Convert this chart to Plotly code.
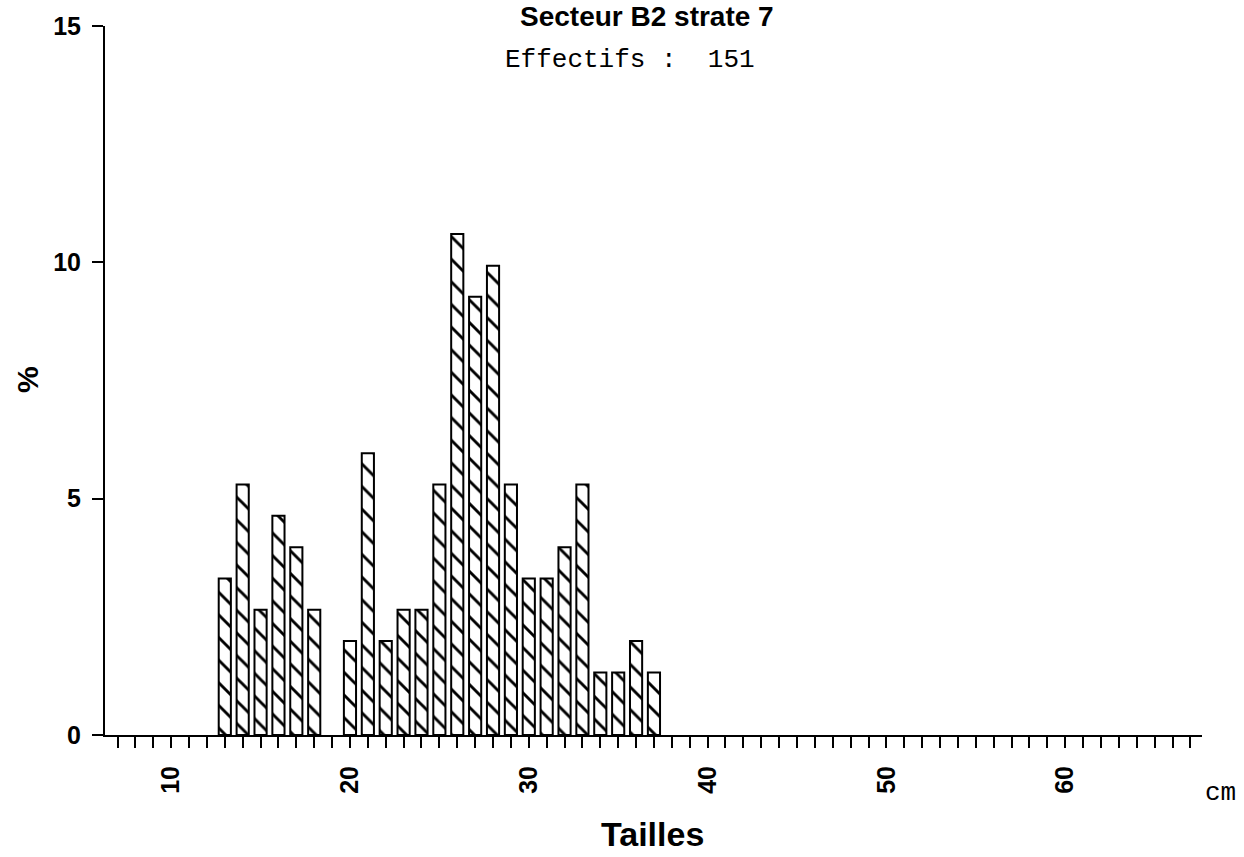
import plotly.graph_objects as go

tailles = [13, 14, 15, 16, 17, 18, 20, 21, 22, 23, 24, 25, 26, 27, 28, 29,
           30, 31, 32, 33, 34, 35, 36, 37]
pourcentages = [3.31, 5.30, 2.65, 4.64, 3.97, 2.65, 1.99, 5.96, 1.99, 2.65, 2.65,
                5.30, 10.60, 9.27, 9.93, 5.30, 3.31, 3.31, 3.97, 5.30, 1.32, 1.32, 1.99, 1.32]
x_ticks = list(range(7, 68))
x_labels = [str(v) if v % 10 == 0 else "" for v in x_ticks]
y_ticks = [0, 5, 10, 15]

fig = go.Figure()
fig.add_trace(go.Bar(
    x=tailles, y=pourcentages, width=0.68,
    marker=dict(color="white", line=dict(color="black", width=2),
                pattern=dict(shape="\\", fgcolor="black", bgcolor="white", fgopacity=1,
                             size=16, solidity=0.18)),
    showlegend=False,
))

bold = "Liberation Sans"
fig.update_layout(
    width=1244, height=857,
    margin=dict(l=105, r=42, t=22, b=122),
    plot_bgcolor="white", paper_bgcolor="white",
    xaxis=dict(range=[6.3, 67.65], tickvals=x_ticks, ticktext=x_labels, tickangle=-90,
               ticks="outside", ticklen=11, tickwidth=2, tickcolor="black",
               ticklabelstandoff=8,
               showline=True, linecolor="black", linewidth=2, showgrid=False, zeroline=False,
               tickfont=dict(family=bold, size=25, color="black", weight="bold")),
    yaxis=dict(range=[0, 15], tickvals=y_ticks, ticks="outside", ticklen=11, tickwidth=2,
               tickcolor="black", showline=True, linecolor="black", linewidth=2,
               ticklabelstandoff=6,
               showgrid=False, zeroline=False,
               tickfont=dict(family=bold, size=25, color="black", weight="bold")),
    annotations=[
        dict(text="<b>Secteur B2 strate 7</b>", xref="paper", yref="paper", x=0.494, y=1.014,
             yanchor="middle", showarrow=False, font=dict(family=bold, size=28, color="black")),
        dict(text="Effectifs :  151", xref="paper", yref="paper", x=0.4786, y=0.952,
             yanchor="middle", showarrow=False,
             font=dict(family="Liberation Mono", size=26, color="black")),
        dict(text="<b>Tailles</b>", xref="paper", yref="paper", x=0.4995, y=-0.140,
             yanchor="middle", showarrow=False, font=dict(family=bold, size=34, color="black")),
        dict(text="<b>%</b>", xref="paper", yref="paper", x=-0.0711, y=0.5007, textangle=-90,
             xanchor="center", yanchor="middle",
             showarrow=False, font=dict(family=bold, size=30, color="black")),
        dict(text="cm", xref="paper", yref="paper", x=1.0173, y=-0.0813, xanchor="center",
             yanchor="middle", showarrow=False,
             font=dict(family="Liberation Mono", size=26, color="black")),
    ],
)

fig.write_html("out.html")
